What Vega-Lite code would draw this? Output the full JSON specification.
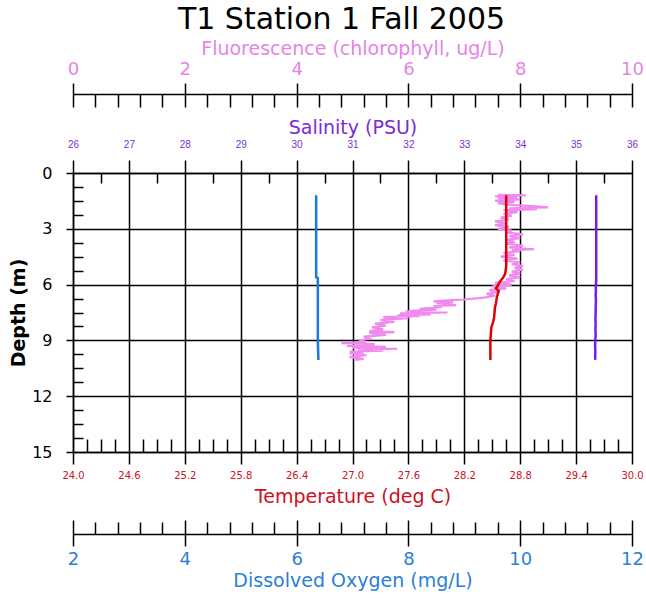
{
  "$schema": "https://vega.github.io/schema/vega-lite/v6.json",
  "width": 559,
  "height": 279,
  "autosize": {"type": "none"},
  "padding": {"left": 73, "top": 173, "right": 14, "bottom": 146},
  "background": "white",
  "title": {"text": "T1 Station 1 Fall 2005", "font": "DejaVu Sans", "fontSize": 30, "fontWeight": "normal", "color": "black", "anchor": "middle", "frame": "group", "dx": -11, "offset": 4},
  "config": {
    "view": {"stroke": null},
    "axis": {"domainColor": "black", "tickColor": "black", "domainWidth": 1.5, "tickWidth": 1.5, "gridColor": "black", "gridWidth": 1.5, "labelFont": "DejaVu Sans", "titleFont": "DejaVu Sans", "titleFontWeight": "normal", "labelOverlap": false, "labelFlush": false, "labelBound": false}
  },
  "datasets": {
    "fl": [
      {"depth": 1.18, "value": 7.6}, {"depth": 1.2, "value": 8.1}, {"depth": 1.25, "value": 7.55}, {"depth": 1.3, "value": 7.95},
      {"depth": 1.35, "value": 7.6}, {"depth": 1.42, "value": 8.0}, {"depth": 1.48, "value": 7.55}, {"depth": 1.55, "value": 7.9},
      {"depth": 1.62, "value": 7.6}, {"depth": 1.7, "value": 7.75}, {"depth": 1.78, "value": 8.2}, {"depth": 1.85, "value": 8.5},
      {"depth": 1.9, "value": 7.8}, {"depth": 1.95, "value": 8.3}, {"depth": 2.0, "value": 7.7}, {"depth": 2.1, "value": 7.95},
      {"depth": 2.2, "value": 7.7}, {"depth": 2.3, "value": 7.85}, {"depth": 2.4, "value": 7.65}, {"depth": 2.5, "value": 7.8},
      {"depth": 2.6, "value": 7.55}, {"depth": 2.7, "value": 7.75}, {"depth": 2.8, "value": 7.55}, {"depth": 2.9, "value": 7.8},
      {"depth": 3.0, "value": 7.6}, {"depth": 3.1, "value": 7.85}, {"depth": 3.2, "value": 7.75}, {"depth": 3.3, "value": 8.05},
      {"depth": 3.4, "value": 7.8}, {"depth": 3.5, "value": 8.0}, {"depth": 3.6, "value": 7.75}, {"depth": 3.7, "value": 7.9},
      {"depth": 3.8, "value": 7.75}, {"depth": 3.9, "value": 8.05}, {"depth": 4.0, "value": 7.8}, {"depth": 4.1, "value": 8.25},
      {"depth": 4.15, "value": 7.85}, {"depth": 4.2, "value": 8.0}, {"depth": 4.3, "value": 7.7}, {"depth": 4.4, "value": 7.9},
      {"depth": 4.5, "value": 7.65}, {"depth": 4.6, "value": 7.95}, {"depth": 4.7, "value": 7.7}, {"depth": 4.8, "value": 8.0},
      {"depth": 4.9, "value": 7.85}, {"depth": 5.0, "value": 8.05}, {"depth": 5.1, "value": 7.9}, {"depth": 5.2, "value": 8.05},
      {"depth": 5.3, "value": 7.85}, {"depth": 5.4, "value": 8.0}, {"depth": 5.5, "value": 7.8}, {"depth": 5.6, "value": 8.0},
      {"depth": 5.7, "value": 7.75}, {"depth": 5.8, "value": 7.9}, {"depth": 5.9, "value": 7.55}, {"depth": 6.0, "value": 7.85},
      {"depth": 6.1, "value": 7.5}, {"depth": 6.2, "value": 7.75}, {"depth": 6.3, "value": 7.45}, {"depth": 6.4, "value": 7.6},
      {"depth": 6.5, "value": 7.4}, {"depth": 6.6, "value": 7.55}, {"depth": 6.7, "value": 7.35}, {"depth": 6.8, "value": 7.0},
      {"depth": 6.85, "value": 6.7}, {"depth": 6.9, "value": 6.45}, {"depth": 6.95, "value": 6.8}, {"depth": 7.0, "value": 6.5},
      {"depth": 7.1, "value": 6.85}, {"depth": 7.15, "value": 6.45}, {"depth": 7.2, "value": 6.6}, {"depth": 7.3, "value": 6.2},
      {"depth": 7.35, "value": 6.5}, {"depth": 7.4, "value": 6.1}, {"depth": 7.45, "value": 5.95}, {"depth": 7.5, "value": 6.7},
      {"depth": 7.55, "value": 5.85}, {"depth": 7.6, "value": 6.4}, {"depth": 7.65, "value": 5.8}, {"depth": 7.7, "value": 6.2},
      {"depth": 7.75, "value": 5.55}, {"depth": 7.8, "value": 6.0}, {"depth": 7.9, "value": 5.5}, {"depth": 8.0, "value": 5.75},
      {"depth": 8.1, "value": 5.4}, {"depth": 8.2, "value": 5.6}, {"depth": 8.3, "value": 5.35}, {"depth": 8.4, "value": 5.55},
      {"depth": 8.5, "value": 5.3}, {"depth": 8.55, "value": 5.75}, {"depth": 8.6, "value": 5.3}, {"depth": 8.7, "value": 5.6},
      {"depth": 8.8, "value": 5.2}, {"depth": 8.9, "value": 5.3}, {"depth": 9.0, "value": 5.15}, {"depth": 9.1, "value": 5.2},
      {"depth": 9.15, "value": 4.8}, {"depth": 9.2, "value": 5.4}, {"depth": 9.3, "value": 4.9}, {"depth": 9.35, "value": 5.6},
      {"depth": 9.4, "value": 5.0}, {"depth": 9.45, "value": 5.8}, {"depth": 9.5, "value": 5.1}, {"depth": 9.55, "value": 5.55},
      {"depth": 9.6, "value": 4.95}, {"depth": 9.65, "value": 5.2}, {"depth": 9.7, "value": 4.95}, {"depth": 9.8, "value": 5.25},
      {"depth": 9.9, "value": 4.95}, {"depth": 10.0, "value": 5.2}, {"depth": 10.05, "value": 5.05}
    ],
    "temp": [
      {"depth": 1.2, "value": 28.65}, {"depth": 3.0, "value": 28.65}, {"depth": 5.0, "value": 28.65}, {"depth": 5.4, "value": 28.64},
      {"depth": 5.6, "value": 28.62}, {"depth": 5.85, "value": 28.58}, {"depth": 6.05, "value": 28.56}, {"depth": 6.2, "value": 28.54},
      {"depth": 6.35, "value": 28.57}, {"depth": 6.5, "value": 28.56}, {"depth": 6.65, "value": 28.55}, {"depth": 7.0, "value": 28.54},
      {"depth": 7.2, "value": 28.53}, {"depth": 7.75, "value": 28.52}, {"depth": 8.0, "value": 28.51}, {"depth": 8.3, "value": 28.49},
      {"depth": 9.0, "value": 28.48}, {"depth": 10.05, "value": 28.48}
    ],
    "sal": [
      {"depth": 1.2, "value": 35.36}, {"depth": 3.0, "value": 35.36}, {"depth": 5.0, "value": 35.36}, {"depth": 5.8, "value": 35.36},
      {"depth": 6.1, "value": 35.35}, {"depth": 6.3, "value": 35.355}, {"depth": 6.6, "value": 35.35}, {"depth": 6.9, "value": 35.355},
      {"depth": 7.2, "value": 35.35}, {"depth": 7.5, "value": 35.35}, {"depth": 7.8, "value": 35.345}, {"depth": 8.1, "value": 35.35},
      {"depth": 8.4, "value": 35.345}, {"depth": 8.7, "value": 35.35}, {"depth": 9.0, "value": 35.345}, {"depth": 9.3, "value": 35.34},
      {"depth": 9.6, "value": 35.345}, {"depth": 9.9, "value": 35.34}, {"depth": 10.05, "value": 35.345}
    ],
    "do": [
      {"depth": 1.2, "value": 6.35}, {"depth": 3.0, "value": 6.35}, {"depth": 5.6, "value": 6.35}, {"depth": 5.65, "value": 6.38},
      {"depth": 7.0, "value": 6.38}, {"depth": 9.0, "value": 6.38}, {"depth": 10.05, "value": 6.39}
    ]
  },
  "encoding": {
    "y": {
      "field": "depth", "type": "quantitative",
      "scale": {"domain": [0, 15], "reverse": true, "nice": false, "zero": false},
      "axis": {
        "values": [0, 0.75, 1.5, 2.25, 3, 3.75, 4.5, 5.25, 6, 6.75, 7.5, 8.25, 9, 9.75, 10.5, 11.25, 12, 12.75, 13.5, 14.25, 15],
        "labelExpr": "datum.value % 3 === 0 ? format(datum.value, 'd') : ''",
        "tickSize": {"condition": {"test": "datum.value % 3 === 0", "value": 7}, "value": -10},
        "grid": true,
        "gridOpacity": {"condition": {"test": "datum.value % 3 === 0", "value": 1}, "value": 0},
        "labelFontSize": 16, "labelColor": "black", "labelPadding": 14,
        "title": "Depth (m)", "titleFontSize": 19, "titleFontWeight": "bold", "titleColor": "black", "titlePadding": 3
      }
    }
  },
  "layer": [
    {
      "data": {"name": "fl"},
      "mark": {"type": "line", "color": "#F08AF0", "strokeWidth": 2.2},
      "encoding": {
        "order": {"field": "depth", "type": "quantitative"},
        "x": {
          "field": "value", "type": "quantitative",
          "scale": {"domain": [0, 10], "nice": false, "zero": false},
          "axis": {
            "orient": "top", "offset": 79,
            "values": [0, 0.4, 0.8, 1.2, 1.6, 2, 2.4, 2.8, 3.2, 3.6, 4, 4.4, 4.8, 5.2, 5.6, 6, 6.4, 6.8, 7.2, 7.6, 8, 8.4, 8.8, 9.2, 9.6, 10],
            "labelExpr": "abs(datum.value/2 - round(datum.value/2)) < 0.01 ? format(datum.value, 'd') : ''",
            "tickSize": {"condition": {"test": "abs(datum.value/2 - round(datum.value/2)) < 0.01", "value": 11}, "value": -13},
            "grid": false,
            "labelColor": "#E585E5", "labelFontSize": 18, "labelPadding": 5,
            "title": "Fluorescence (chlorophyll, ug/L)", "titleColor": "#E585E5", "titleFontSize": 19, "titlePadding": 2
          }
        }
      }
    },
    {
      "data": {"name": "fl"},
      "mark": {"type": "line", "opacity": 0},
      "encoding": {
        "order": {"field": "depth", "type": "quantitative"},
        "x": {
          "field": "value", "type": "quantitative",
          "scale": {"domain": [0, 10], "nice": false, "zero": false},
          "axis": {
            "orient": "top", "offset": 79,
            "values": [0, 2, 4, 6, 8, 10],
            "labels": false, "domain": false, "grid": false, "title": null,
            "tickSize": -13
          }
        }
      }
    },
    {
      "data": {"name": "temp"},
      "mark": {"type": "line", "color": "#E00000", "strokeWidth": 2.5},
      "encoding": {
        "order": {"field": "depth", "type": "quantitative"},
        "x": {
          "field": "value", "type": "quantitative",
          "scale": {"domain": [24, 30], "nice": false, "zero": false},
          "axis": {
            "orient": "bottom", "offset": 0,
            "values": [24, 24.15, 24.3, 24.45, 24.6, 24.75, 24.9, 25.05, 25.2, 25.35, 25.5, 25.65, 25.8, 25.95, 26.1, 26.25, 26.4, 26.55, 26.7, 26.85, 27, 27.15, 27.3, 27.45, 27.6, 27.75, 27.9, 28.05, 28.2, 28.35, 28.5, 28.65, 28.8, 28.95, 29.1, 29.25, 29.4, 29.55, 29.7, 29.85, 30],
            "labelExpr": "abs(datum.value/0.6 - round(datum.value/0.6)) < 0.01 ? format(datum.value, '.1f') : ''",
            "tickSize": {"condition": {"test": "abs(datum.value/0.6 - round(datum.value/0.6)) < 0.01", "value": 12}, "value": -13},
            "grid": false,
            "labelColor": "#CC1122", "labelFontSize": 10, "labelPadding": 6,
            "title": "Temperature (deg C)", "titleColor": "#CC1122", "titleFontSize": 19, "titlePadding": 7
          }
        }
      }
    },
    {
      "data": {"name": "sal"},
      "mark": {"type": "line", "color": "#7A1AE6", "strokeWidth": 2.5},
      "encoding": {
        "order": {"field": "depth", "type": "quantitative"},
        "x": {
          "field": "value", "type": "quantitative",
          "scale": {"domain": [26, 36], "nice": false, "zero": false},
          "axis": {
            "orient": "top", "offset": 0,
            "values": [26, 26.5, 27, 27.5, 28, 28.5, 29, 29.5, 30, 30.5, 31, 31.5, 32, 32.5, 33, 33.5, 34, 34.5, 35, 35.5, 36],
            "labelExpr": "datum.value % 1 === 0 ? format(datum.value, 'd') : ''",
            "tickSize": {"condition": {"test": "datum.value % 1 === 0", "value": 13}, "value": -10},
            "grid": true,
            "gridOpacity": {"condition": {"test": "datum.value % 1 === 0", "value": 1}, "value": 0},
            "labelFont": "Liberation Sans", "labelColor": "#7E2BD6", "labelFontSize": 10, "labelPadding": 11,
            "title": "Salinity (PSU)", "titleColor": "#7A2BD6", "titleFontSize": 19, "titlePadding": 2
          }
        }
      }
    },
    {
      "data": {"name": "do"},
      "mark": {"type": "line", "color": "#1E78D8", "strokeWidth": 2.5},
      "encoding": {
        "order": {"field": "depth", "type": "quantitative"},
        "x": {
          "field": "value", "type": "quantitative",
          "scale": {"domain": [2, 12], "nice": false, "zero": false},
          "axis": {
            "orient": "bottom", "offset": 82,
            "values": [2, 2.4, 2.8, 3.2, 3.6, 4, 4.4, 4.8, 5.2, 5.6, 6, 6.4, 6.8, 7.2, 7.6, 8, 8.4, 8.8, 9.2, 9.6, 10, 10.4, 10.8, 11.2, 11.6, 12],
            "labelExpr": "abs(datum.value/2 - round(datum.value/2)) < 0.01 ? format(datum.value, 'd') : ''",
            "tickSize": {"condition": {"test": "abs(datum.value/2 - round(datum.value/2)) < 0.01", "value": 12}, "value": -12},
            "grid": false,
            "labelColor": "#2B7FD4", "labelFontSize": 18, "labelPadding": 4,
            "title": "Dissolved Oxygen (mg/L)", "titleColor": "#2B7FD4", "titleFontSize": 19, "titlePadding": 3
          }
        }
      }
    },
    {
      "data": {"name": "do"},
      "mark": {"type": "line", "opacity": 0},
      "encoding": {
        "order": {"field": "depth", "type": "quantitative"},
        "x": {
          "field": "value", "type": "quantitative",
          "scale": {"domain": [2, 12], "nice": false, "zero": false},
          "axis": {
            "orient": "bottom", "offset": 82,
            "values": [2, 4, 6, 8, 10, 12],
            "labels": false, "domain": false, "grid": false, "title": null,
            "tickSize": -14
          }
        }
      }
    }
  ],
  "resolve": {"scale": {"x": "independent"}, "axis": {"x": "independent"}}
}
